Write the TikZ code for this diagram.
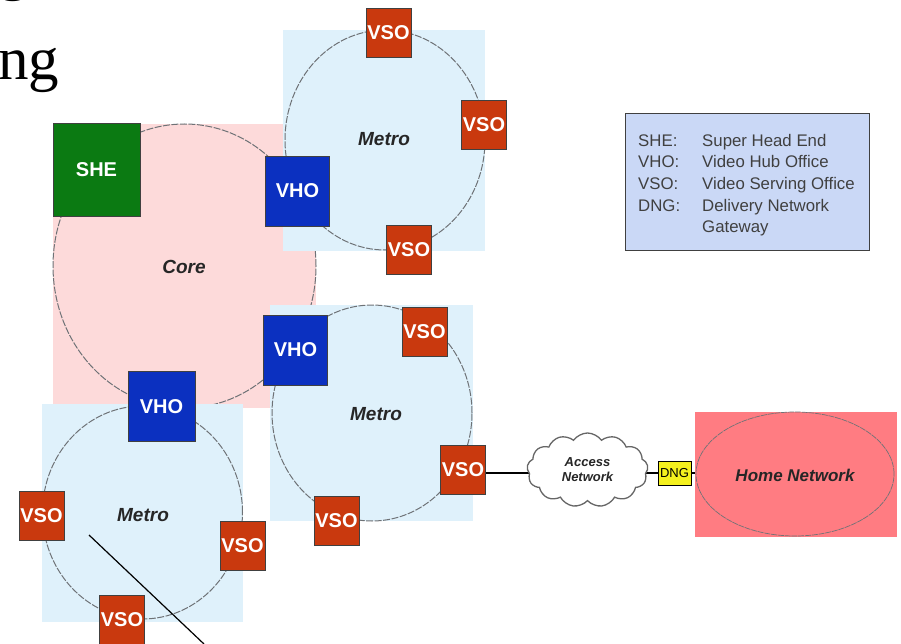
\documentclass[tikz,border=0pt]{standalone}
\usepackage{fontspec}
\setmainfont{Liberation Serif}
\setsansfont{Liberation Sans}
\usetikzlibrary{shapes.geometric,shapes.symbols}
\pgfdeclarelayer{wires}
\pgfsetlayers{wires,main}
\definecolor{metrobg}{HTML}{DFF1FB}
\definecolor{corebg}{HTML}{FDDADA}
\definecolor{shegreen}{HTML}{0B7A12}
\definecolor{vhoblue}{HTML}{0B30C0}
\definecolor{vsored}{HTML}{C9390E}
\definecolor{legendbg}{HTML}{CAD8F6}
\definecolor{homebg}{HTML}{FF7C82}
\definecolor{dngyel}{HTML}{F4F01E}
\definecolor{ringgray}{HTML}{6E7276}
\tikzset{
  x=1pt,y=-1pt,
  ring/.style={ellipse,draw=ringgray,dash pattern=on 7pt off 1.5pt,line width=1pt,inner sep=0pt,outer sep=0pt},
  sitebox/.style={draw=black!75!white,line width=0.9pt,inner sep=0pt,outer sep=0pt,text=white,font=\sffamily\bfseries\fontsize{20}{20}\selectfont},
  vsobox/.style={sitebox,fill=vsored,minimum width=45pt,minimum height=49pt},
  vhobox/.style={sitebox,fill=vhoblue,minimum width=64pt,minimum height=70pt},
  shebox/.style={sitebox,fill=shegreen,minimum width=87pt,minimum height=93pt},
  lbl/.style={font=\sffamily\itshape\bfseries\fontsize{#1}{#1}\selectfont,text=black!85!white,inner sep=0pt},
  legtext/.style={anchor=base west,inner sep=0pt,font=\sffamily\fontsize{16.8}{16.8}\selectfont,text=black!75!white},
  wire/.style={draw=black,line width=1.1pt},
}
\begin{document}
\begin{tikzpicture}
\useasboundingbox (0,0) rectangle (901,644);
\clip (0,0) rectangle (901,644);
% slide text fragments
\node[anchor=base west,inner sep=0pt,font=\rmfamily\fontsize{61}{61}\selectfont] (slidea) at (-2,80) {ng};
\node[anchor=base west,inner sep=0pt,font=\rmfamily\fontsize{61}{61}\selectfont] (slideb) at (-2,-11) {g};
% core
\fill[corebg] (53,124) rectangle (316,408);
\node[ring,minimum width=263pt,minimum height=284pt] (corering) at (184.5,266) {};
% metro panels over the core
\fill[metrobg] (283,30) rectangle (485,251);
\fill[metrobg] (270,305) rectangle (473,521);
\fill[metrobg] (42,404) rectangle (243,622);
\fill[homebg] (695,412) rectangle (897,537);
% rings
\node[ring,minimum width=200pt,minimum height=220pt] (ringa) at (385,140) {};
\node[ring,minimum width=200pt,minimum height=216pt] (ringb) at (372,413) {};
\node[ring,minimum width=200pt,minimum height=213pt] (ringc) at (142.5,512.5) {};
\node[ring,line width=0.7pt,dash pattern=on 6pt off 0.8pt,minimum width=198pt,minimum height=124pt] (homering) at (795,474) {};
% sites
\node[shebox] (she) at (96.5,169.5) {SHE};
\node[vhobox] (vhoa) at (297.5,191) {VHO};
\node[vhobox] (vhob) at (295.5,350) {VHO};
\node[vhobox,minimum width=67pt] (vhoc) at (161.5,406.5) {VHO};
\node[vsobox] (vsoa) at (388.5,32.5) {VSO};
\node[vsobox] (vsob) at (484,125) {VSO};
\node[vsobox] (vsoc) at (409,249.5) {VSO};
\node[vsobox] (vsod) at (424.5,332) {VSO};
\node[vsobox] (vsoe) at (463,470) {VSO};
\node[vsobox] (vsof) at (336.5,520.5) {VSO};
\node[vsobox] (vsog) at (41.5,516) {VSO};
\node[vsobox] (vsoh) at (242.5,545.5) {VSO};
\node[vsobox] (vsoi) at (122,620) {VSO};
% labels
\node[lbl=19] (corelbl) at (184,267) {Core};
\node[lbl=19] (metroa) at (384,139) {Metro};
\node[lbl=19] (metrob) at (376,414) {Metro};
\node[lbl=19] (metroc) at (143,515) {Metro};
\node[lbl=17] (homelbl) at (795,475) {Home Network};
% access
\node[cloud,cloud puffs=13,cloud puff arc=110,aspect=1.7,draw=black!60!white,fill=white,line width=1.3pt,minimum width=121pt,minimum height=74pt,inner sep=0pt,outer sep=0pt,align=center,font=\sffamily\itshape\bfseries\fontsize{13}{16}\selectfont,text=black!85!white] (access) at (587.5,470) {Access\\[-1pt]Network};
\node[draw=black,line width=1pt,fill=dngyel,minimum width=33pt,minimum height=24pt,inner sep=0pt,outer sep=0pt,font=\sffamily\fontsize{13}{13}\selectfont] (dng) at (674.5,473) {DNG};
\coordinate (homeedge) at (695,473);
\begin{pgfonlayer}{wires}
\draw[wire] (dng.west -| vsoe.east) -- (dng.west -| access.center);
\draw[wire] (dng.west -| access.center) -- (dng.west);
\draw[wire] (dng.east) -- (homeedge);
\end{pgfonlayer}
% legend
\node[draw=black!75!white,fill=legendbg,line width=1pt,minimum width=244pt,minimum height=136pt,inner sep=0pt,outer sep=0pt] (legend) at (747,182) {};
\foreach \yy/\ka/\kb in {147/SHE:/Super Head End,168/VHO:/Video Hub Office,190/VSO:/Video Serving Office,212/DNG:/Delivery Network,233//Gateway}{
  \node[legtext] at (638,\yy) {\ka};
  \node[legtext] at (702,\yy) {\kb};
}
% pointer line
\coordinate (ptra) at (89,535);
\coordinate (ptrb) at (204,644);
\draw[line width=1.2pt] (ptra) -- (ptrb);
\end{tikzpicture}
\end{document}
